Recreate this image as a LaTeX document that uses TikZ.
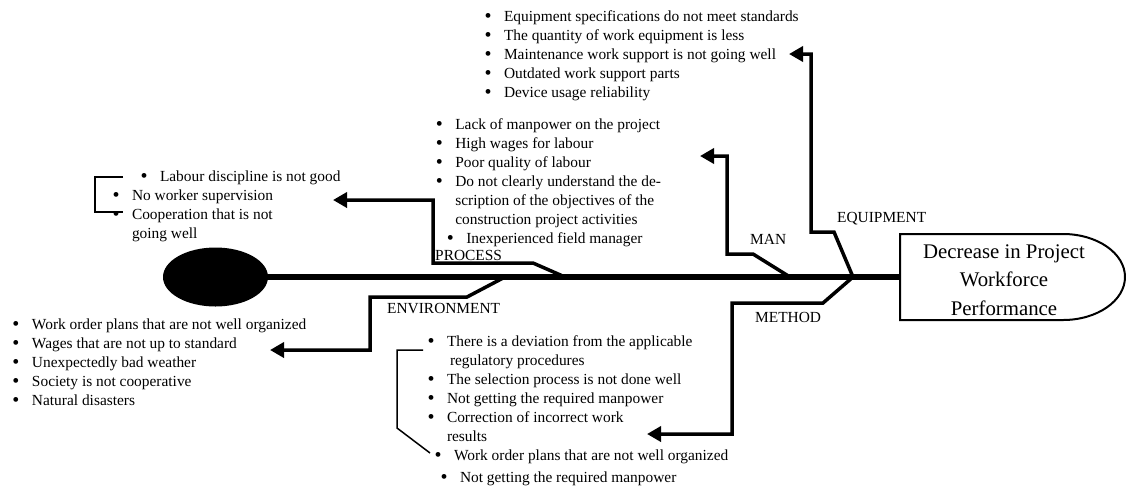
\documentclass[tikz,border=0pt]{standalone}
\usepackage{fontspec}
\setmainfont{Liberation Serif}
\usetikzlibrary{arrows.meta,shapes.geometric}

% bullet item and continuation line
\newcommand{\bl}{\strut\makebox[19.5pt][l]{\raisebox{-0.6pt}{\scalebox{1.3}{\textbullet}}}}
\newcommand{\ct}{\strut\hspace*{19.5pt}}

\tikzset{
  spine/.style={line width=5.5pt},
  bone/.style={line width=3.5pt, -{Triangle[length=14pt,width=15pt]}},
  bracket/.style={line width=2pt},
  causelist/.style={anchor=north west, inner sep=0pt, align=left,
    font=\fontsize{15.4}{19}\selectfont},
  category/.style={anchor=west, inner sep=0pt,
    font=\fontsize{15.4}{19}\selectfont},
}

\begin{document}
\begin{tikzpicture}[x=1pt, y=-1pt]
    \useasboundingbox (0,0) rectangle (1126,491);

    % Fish tail
    \node[ellipse, fill, inner sep=0pt, minimum width=105pt, minimum height=59pt] (tail) at (215.5,277) {};

    % Fish head with the effect
    \coordinate (hw) at (900,277);
    \draw[line width=2pt] (900,234) -- (1063,234)
        arc[start angle=90, end angle=-90, x radius=62pt, y radius=43pt]
        -- (900,320) -- cycle;
    \node[align=center, inner sep=0pt, font=\fontsize{20.8}{28.5}\selectfont] (head) at (1004,280)
        {Decrease in Project\\Workforce\\Performance};

    % Spine
    \draw[spine] (tail.east) -- (hw);

    % Junctions on the spine and arrow tips
    \coordinate (jpro) at (565,277);
    \coordinate (jenv) at (505,277);
    \coordinate (jman) at (790,277);
    \coordinate (jeq) at (853,277);
    \coordinate (tpro) at (333,200);
    \coordinate (tenv) at (270,350);
    \coordinate (tman) at (700,156);
    \coordinate (teq) at (789,54);
    \coordinate (tmet) at (647,434);

    % Bones
    \draw[bone] (jpro) -- (533,263) -- (433,263) |- (tpro);
    \draw[bone] (jenv) -- (467,297) -- (370,297) |- (tenv);
    \draw[bone] (jman) -- (753,254) -- (727,254) |- (tman);
    \draw[bone] (jeq) -- (834,232) -- (811,232) |- (teq);
    \draw[bone] (jeq) -- (823,303) -- (732,303) |- (tmet);

    % Category labels
    \node[category] (process) at (435,255) {PROCESS};
    \node[category] (environment) at (387,309) {ENVIRONMENT};
    \node[category] (man) at (750,239) {MAN};
    \node[category] (equipment) at (837,219) {EQUIPMENT};
    \node[category] (method) at (755,317) {METHOD};

    % Cause lists
    \node[causelist] (eqlist) at (484.3,8.2) {\bl Equipment specifications do not meet standards\\
        \bl The quantity of work equipment is less\\
        \bl Maintenance work support is not going well\\
        \bl Outdated work support parts\\
        \bl Device usage reliability};
    \node[causelist] (manlist) at (435.6,116.2) {\bl Lack of manpower on the project\\
        \bl High wages for labour\\
        \bl Poor quality of labour\\
        \bl Do not clearly understand the de-\\
        \ct scription of the objectives of the\\
        \ct construction project activities\\
        \hspace*{11pt}\bl Inexperienced field manager};
    \node[causelist] (prolist) at (112.3,168.2) {\hspace*{28pt}\bl Labour discipline is not good\\
        \bl No worker supervision\\
        \bl Cooperation that is not\\
        \ct going well};
    \node[causelist] (envlist) at (12.3,316.2) {\bl Work order plans that are not well organized\\
        \bl Wages that are not up to standard\\
        \bl Unexpectedly bad weather\\
        \bl Society is not cooperative\\
        \bl Natural disasters};
    \node[causelist] (metlist) at (427.3,333.2) {\bl There is a deviation from the applicable\\
        \ct\hspace*{3pt}regulatory procedures\\
        \bl The selection process is not done well\\
        \bl Not getting the required manpower\\
        \bl Correction of incorrect work\\
        \ct results\\
        \hspace*{7pt}\bl Work order plans that are not well organized\\[3pt]
        \hspace*{13pt}\bl Not getting the required manpower};

    % Brackets
    \draw[bracket] (123,177) -- (95,177) -- (95,212) -- (123,212);
    \draw[line width=1.5pt] (423,350) -- (397,350) -- (397,428) -- (430,453);

\end{tikzpicture}
\end{document}
